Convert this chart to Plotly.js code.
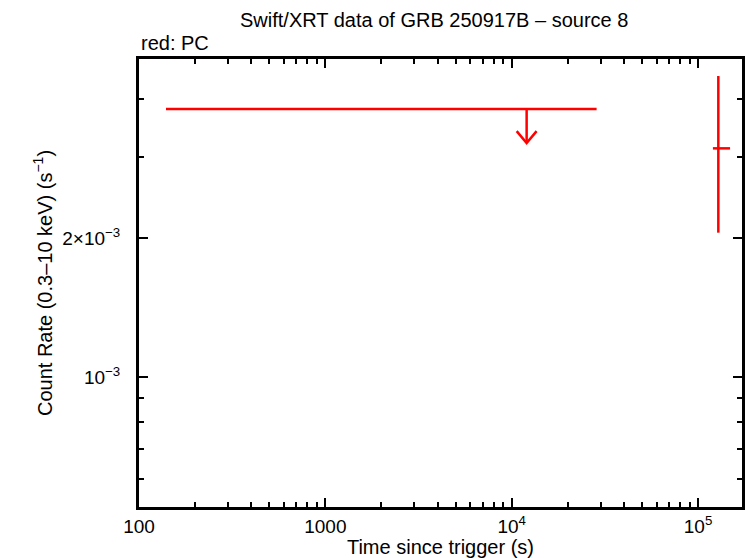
<!DOCTYPE html>
<html><head><meta charset="utf-8">
<script src="https://cdn.plot.ly/plotly-3.0.1.min.js"></script>
<style>html,body{margin:0;padding:0;background:#fff}#plot{width:746px;height:558px}</style>
</head><body><div id="plot"></div>
<script>
// Upper limit (PC mode)
const ulStart = [139.6];
const ulEnd = [28560];
const ulArrowX = [12030];
const ulRate = [3.806e-3];
// Detection (PC mode)
const ptTime = [1.285e5];
const ptTimeLo = [1.202e5];
const ptTimeHi = [1.486e5];
const ptRate = [3.128e-3];
const ptRateLo = [2.054e-3];
const ptRateHi = [4.487e-3];

const xMajor = [100, 1000, 1e4, 1e5];
const xMajorText = ['100', '1000', '10<sup>4</sup>', '10<sup>5</sup>'];
const yMajor = [1e-3, 2e-3];
const yMajorText = ['10<sup>−3</sup>', '2×10<sup>−3</sup>'];

const red = '#ff0000';
const xMinor = [];
[100, 1000, 1e4, 1e5].forEach(d => { for (let k = 2; k <= 9; k++) xMinor.push(d * k); });
const yMinor = [5e-4, 6e-4, 7e-4, 8e-4, 9e-4, 3e-3, 4e-3];

const traces = [];
for (let i = 0; i < ulRate.length; i++) {
  traces.push({x: [ulStart[i], ulEnd[i]], y: [ulRate[i], ulRate[i]], mode: 'lines',
    line: {color: red, width: 2.5}, hoverinfo: 'skip', showlegend: false});
  const tip = ulRate[i] * 0.844;
  traces.push({x: [ulArrowX[i], ulArrowX[i]], y: [ulRate[i], tip], mode: 'lines',
    line: {color: red, width: 2.5}, showlegend: false});
  traces.push({x: [ulArrowX[i] / 1.131, ulArrowX[i], ulArrowX[i] * 1.131],
    y: [tip * 1.061, tip, tip * 1.061], mode: 'lines',
    line: {color: red, width: 2.5}, showlegend: false});
}
traces.push({
  x: ptTime, y: ptRate, mode: 'markers', marker: {size: 1, color: red}, showlegend: false,
  error_x: {type: 'data', symmetric: false,
    array: ptTime.map((v, i) => ptTimeHi[i] - v), arrayminus: ptTime.map((v, i) => v - ptTimeLo[i]),
    color: red, thickness: 2.5, width: 0},
  error_y: {type: 'data', symmetric: false,
    array: ptRate.map((v, i) => ptRateHi[i] - v), arrayminus: ptRate.map((v, i) => v - ptRateLo[i]),
    color: red, thickness: 2.5, width: 0}
});

const fontFam = 'Liberation Sans, Arial, sans-serif';
const layout = {
  width: 746, height: 558,
  margin: {l: 139, r: 4, t: 59, b: 51},
  paper_bgcolor: '#fff', plot_bgcolor: '#fff',
  font: {family: fontFam, color: '#000', size: 19},
  showlegend: false,
  xaxis: {
    type: 'log', range: [2, 5.236],
    tickmode: 'array', tickvals: xMajor, ticktext: xMajorText,
    ticks: 'inside', ticklen: 9, tickwidth: 2, tickcolor: '#000',
    showline: true, linewidth: 3, linecolor: '#000', mirror: 'allticks',
    showgrid: false, zeroline: false,
    minor: {tickmode: 'array', tickvals: xMinor, ticks: 'inside', ticklen: 5, tickwidth: 2, tickcolor: '#000', showgrid: false},
    tickfont: {size: 19},
    ticklabelstandoff: 0,
    title: {text: 'Time since trigger (s)', font: {size: 20}, standoff: 1}
  },
  yaxis: {
    type: 'log', range: [-3.2816, -2.3112],
    tickmode: 'array', tickvals: yMajor, ticktext: yMajorText,
    ticks: 'inside', ticklen: 9, tickwidth: 2, tickcolor: '#000',
    showline: true, linewidth: 3, linecolor: '#000', mirror: 'allticks',
    showgrid: false, zeroline: false,
    minor: {tickmode: 'array', tickvals: yMinor, ticks: 'inside', ticklen: 5, tickwidth: 2, tickcolor: '#000', showgrid: false},
    tickfont: {size: 19},
    ticklabelstandoff: 12,
    title: {text: 'Count Rate (0.3–10 keV) (s<sup>−1</sup>)', font: {size: 20}, standoff: 5}
  },
  annotations: [
    {text: 'Swift/XRT data of GRB 250917B – source 8', xref: 'paper', yref: 'paper',
     x: 0.49, y: 1, yshift: 39, xanchor: 'center', yanchor: 'middle', showarrow: false, font: {size: 20}},
    {text: 'red: PC', xref: 'paper', yref: 'paper', x: 0, y: 1, yshift: 16, xanchor: 'left', yanchor: 'middle',
     showarrow: false, font: {size: 20}}
  ]
};
Plotly.newPlot('plot', traces, layout, {staticPlot: true, displayModeBar: false});
</script></body></html>
